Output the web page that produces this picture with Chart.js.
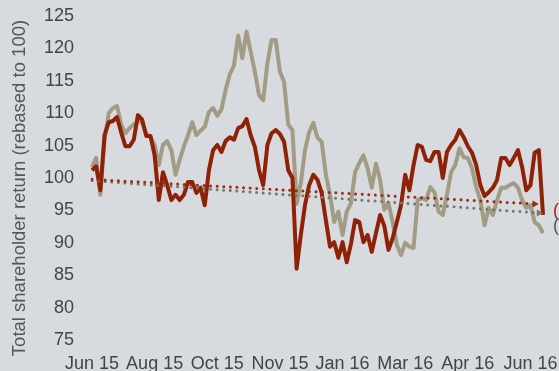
<!DOCTYPE html>
<html>
<head>
<meta charset="utf-8">
<script src="https://cdn.jsdelivr.net/npm/chart.js@4.4.1/dist/chart.umd.min.js"></script>
<style>
  html, body { margin: 0; padding: 0; background: #d7dade; }
  #wrap { width: 559px; height: 371px; position: relative; }
</style>
</head>
<body>
<div id="wrap"><canvas id="tsr"></canvas></div>
<script>
// tick labels shown under the x axis, one every `tickEvery` points
const tickLabels = ['Jun 15', 'Aug 15', 'Oct 15', 'Nov 15', 'Jan 16', 'Mar 16', 'Apr 16', 'Jun 16'];
const tickEvery = 15;

// TSR, rebased to 100
const redTsr = [
  101.2, 101.8, 98.1, 106.6, 108.6, 108.8, 109.4, 107.0, 104.9, 104.9,
  105.9, 109.7, 109.0, 106.5, 106.5, 103.5, 96.6, 100.9, 98.9, 96.6,
  97.4, 96.6, 97.4, 99.4, 99.4, 97.7, 98.5, 95.8, 101.2, 104.3,
  105.1, 104.0, 105.7, 106.3, 105.9, 107.7, 108.0, 109.1, 106.6, 104.8,
  101.2, 98.9, 105.1, 106.9, 107.4, 106.8, 105.6, 101.2, 100.0, 86.0,
  91.2, 95.8, 98.9, 100.5, 99.7, 97.7, 93.5, 89.4, 90.1, 87.7,
  90.1, 87.0, 89.8, 93.5, 93.2, 90.1, 91.2, 88.6, 91.5, 94.3,
  92.6, 88.9, 90.7, 93.2, 95.8, 100.5, 98.1, 102.0, 105.1, 104.8,
  102.8, 102.6, 104.0, 104.0, 100.0, 104.0, 105.1, 105.9, 107.4, 106.3,
  104.9, 103.9, 102.0, 98.9, 97.2, 97.8, 98.5, 99.7, 103.1, 103.1,
  102.0, 103.1, 104.3, 101.7, 98.1, 98.9, 103.9, 104.3, 94.3
];
const grayTsr = [
  101.7, 103.1, 97.4, 105.9, 110.0, 110.8, 111.1, 108.2, 106.9, 107.7,
  108.3, 108.8, 108.6, 106.8, 106.3, 105.1, 102.0, 105.1, 105.7, 104.3,
  100.5, 102.8, 104.9, 106.6, 108.6, 106.6, 107.3, 107.9, 110.2, 110.8,
  109.6, 110.6, 113.6, 116.0, 117.4, 122.0, 118.5, 122.6, 119.5, 116.4,
  112.8, 112.0, 117.7, 121.3, 121.3, 116.4, 114.8, 108.2, 107.4, 96.0,
  99.2, 104.3, 107.1, 108.5, 106.2, 105.6, 100.5, 97.4, 93.2, 94.8,
  91.2, 94.8, 96.1, 100.9, 102.3, 103.5, 101.5, 98.5, 102.2, 99.7,
  95.1, 96.1, 93.2, 89.7, 88.1, 90.0, 89.4, 89.2, 96.6, 96.9,
  96.6, 98.6, 97.8, 94.8, 94.3, 97.4, 100.9, 102.0, 104.6, 103.2,
  103.1, 101.5, 98.6, 96.6, 92.7, 95.4, 94.3, 96.6, 98.5, 98.5,
  98.9, 99.2, 98.5, 96.6, 95.4, 95.8, 93.2, 92.7, 91.5
];

// trend lines: start value, end value, and the point index where the arrow sits
const redTrend = [99.8, 96.0];
const grayTrend = [99.6, 94.6];
const redTrendEnd = 106;
const grayTrendEnd = 107;

const yTitle = 'Total shareholder return (rebased to 100)';

const RED = '#8f2206';
const KHAKI = '#a39c84';
const RED_DOT = '#9c2a12';
const GRAY_DOT = '#77766a';
const FAMILY = '"Liberation Sans", Arial, sans-serif';
const FONT = { family: FAMILY, size: 18 };

const categories = redTsr.map((_, i) => (i % tickEvery === 0 ? tickLabels[i / tickEvery] : ''));

function trendLine(pair, end){
  return categories.map((_, i) => (i === 0 ? pair[0] : i === end ? pair[1] : null));
}

function trendSet(pair, end, color){
  return {
    data: trendLine(pair, end),
    borderColor: color,
    backgroundColor: color,
    borderWidth: 3,
    borderDash: [0, 6.6],
    borderCapStyle: 'round',
    spanGaps: true,
    pointStyle: 'triangle',
    pointRotation: 90,
    pointRadius: (c) => (c.dataIndex === end ? 4 : 0),
    pointBorderWidth: 0,
    order: 0,
  };
}

// y title drawn by hand (it sits a little lower than the plot centre),
// plus the cut-off "(" labels at the right edge next to each arrow
const extras = {
  id: 'extras',
  afterDraw(chart){
    const { ctx, scales: { y } } = chart;
    ctx.save();
    ctx.font = `18.5px ${FAMILY}`;
    ctx.fillStyle = '#555';
    ctx.textAlign = 'center';
    ctx.textBaseline = 'middle';
    ctx.translate(20, 188);
    ctx.rotate(-Math.PI / 2);
    ctx.fillText(yTitle, 0, 0);
    ctx.restore();

    ctx.save();
    ctx.font = `18px ${FAMILY}`;
    ctx.textBaseline = 'middle';
    ctx.textAlign = 'left';
    ctx.fillStyle = RED_DOT;
    ctx.fillText('(', 553, y.getPixelForValue(redTrend[1]) + 7);
    ctx.fillStyle = '#5a5a52';
    ctx.fillText('(', 553, y.getPixelForValue(grayTrend[1]) + 13);
    ctx.restore();
  }
};

new Chart(document.getElementById('tsr'), {
  type: 'line',
  data: {
    labels: categories,
    datasets: [
      trendSet(redTrend, redTrendEnd, RED_DOT),
      trendSet(grayTrend, grayTrendEnd, GRAY_DOT),
      { data: redTsr, borderColor: RED, borderWidth: 4, pointRadius: 0, tension: 0, borderJoinStyle: 'round', order: 1 },
      { data: grayTsr, borderColor: KHAKI, borderWidth: 4, pointRadius: 0, tension: 0, borderJoinStyle: 'round', order: 2 },
    ],
  },
  options: {
    responsive: true,
    maintainAspectRatio: false,
    animation: false,
    layout: { padding: { top: 16, right: 16, left: 0, bottom: 0 } },
    plugins: { legend: { display: false }, tooltip: { enabled: false } },
    scales: {
      x: {
        grid: { display: false, drawTicks: false },
        border: { display: false },
        afterFit: (s) => { s.height = 31; s.paddingLeft = 0; s.paddingRight = 0; },
        ticks: {
          autoSkip: false, maxRotation: 0, minRotation: 0, padding: 13,
          color: '#444', font: FONT,
          callback: (v, i) => (categories[i] ? categories[i] : null),
        },
      },
      y: {
        min: 75, max: 125,
        grid: { display: false, drawTicks: false },
        border: { display: false },
        afterFit: (s) => { s.width = 92; s.paddingTop = 0; s.paddingBottom = 0; },
        ticks: { stepSize: 5, padding: 18, color: '#444', font: FONT },
      },
    },
  },
  plugins: [extras],
});
</script>
</body>
</html>
